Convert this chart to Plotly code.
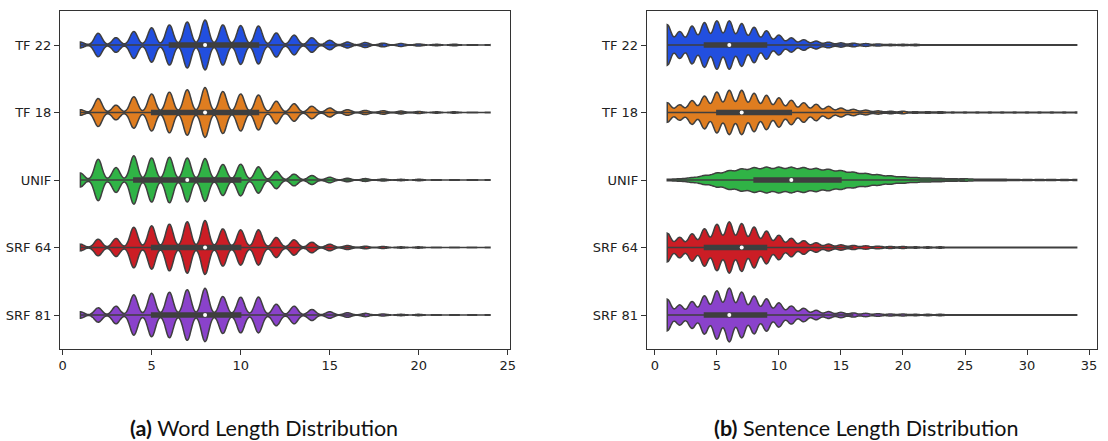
import numpy as np
import plotly.graph_objects as go

# ---------------- data (counts per length) ----------------
categories = ["TF 22", "TF 18", "UNIF", "SRF 64", "SRF 81"]
colors = ["#224fdf", "#df7d20", "#30b346", "#cb1d25", "#8a42cb"]

word_lengths = list(range(1, 25))
word_tf22 = [8, 32, 20, 37, 47, 55, 63, 68, 55, 53, 52, 33, 27, 20, 13, 8, 7, 5, 4, 3, 2, 2, 1, 1]
word_tf18 = [8, 40, 21, 45, 53, 58, 65, 71, 60, 53, 50, 32, 25, 18, 13, 8, 6, 5, 4, 3, 2, 2, 1, 1]
word_unif = [20, 60, 36, 70, 64, 66, 64, 62, 45, 46, 38, 25, 17, 13, 8, 5, 4, 3, 2, 2, 1, 1, 1, 1]
word_srf64 = [10, 25, 27, 61, 65, 70, 77, 81, 56, 53, 53, 30, 23, 16, 10, 6, 4, 3, 2, 2, 1, 1, 1, 1]
word_srf81 = [10, 22, 27, 62, 67, 70, 78, 82, 57, 55, 55, 33, 27, 17, 10, 7, 5, 3, 2, 2, 1, 1, 1, 1]

sent_lengths = list(range(1, 35))
sent_tf22 = [57, 38, 53, 63, 68, 68, 60, 50, 40, 28, 20, 15, 11, 8, 6, 5, 4, 3, 2, 2, 2,
             1, 1, 1, 1, 1, 1, 1, 1, 1, 1, 1, 1, 1]
sent_tf18 = [24, 19, 29, 40, 50, 54, 54, 47, 42, 36, 30, 24, 20, 15, 11, 8, 6, 4, 3, 3, 2,
             2, 2, 1, 1, 1, 1, 1, 1, 1, 1, 1, 1, 1]
sent_unif = [2, 3, 6, 11, 17, 23, 27, 30, 31, 31, 31, 30, 28, 26, 23, 19, 16, 13, 10, 8, 6,
             5, 4, 3, 3, 2, 2, 2, 1, 1, 1, 1, 1, 1]
sent_srf64 = [42, 30, 40, 55, 68, 75, 70, 60, 48, 36, 27, 20, 14, 10, 8, 6, 5, 4, 3, 3, 2,
              2, 2, 1, 1, 1, 1, 1, 1, 1, 1, 1, 1, 1]
sent_srf81 = [47, 30, 40, 57, 72, 80, 68, 56, 48, 36, 27, 20, 14, 10, 8, 6, 5, 4, 3, 3, 2,
              2, 2, 1, 1, 1, 1, 1, 1, 1, 1, 1, 1, 1]

word_series = [word_tf22, word_tf18, word_unif, word_srf64, word_srf81]
sent_series = [sent_tf22, sent_tf18, sent_unif, sent_srf64, sent_srf81]
word_bw = [0.21, 0.21, 0.21, 0.21, 0.21]
sent_bw = [0.3, 0.3, 0.42, 0.3, 0.3]

captions = ["<b>(a)</b> Word Length Distribution", "<b>(b)</b> Sentence Length Distribution"]

LINE = "#3f3f3f"
fig = go.Figure()


def add_panel(lengths, series, bws, xa, ya, group):
    for cat, col, counts, bw in zip(categories, colors, series, bws):
        samples = np.repeat(np.array(lengths, dtype=float), counts)
        fig.add_trace(go.Violin(
            x=samples, y0=cat, name=cat, orientation="h", side="both",
            scalegroup=group, scalemode="width", spanmode="hard",
            bandwidth=bw, fillcolor=col, opacity=1,
            line=dict(color=LINE, width=1.5),
            box=dict(visible=True, width=0.07, fillcolor=LINE,
                     line=dict(color=LINE, width=1.5)),
            meanline=dict(visible=False), points=False,
            xaxis=xa, yaxis=ya, showlegend=False, hoverinfo="skip"))
        fig.add_trace(go.Scatter(
            x=[float(np.median(samples))], y=[cat], mode="markers",
            marker=dict(color="white", size=4, line=dict(width=0)),
            xaxis=xa, yaxis=ya, showlegend=False, hoverinfo="skip"))


add_panel(word_lengths, word_series, word_bw, "x", "y", "word")
add_panel(sent_lengths, sent_series, sent_bw, "x2", "y2", "sent")

W, H = 1108, 441
axis_common = dict(showline=True, mirror=True, linecolor="#333333", linewidth=1.1,
                   ticks="outside", ticklen=5, tickwidth=1.1, tickcolor="#333333",
                   showgrid=False, zeroline=False,
                   tickfont=dict(family="DejaVu Sans", size=13, color="#222222"))
ydom = [1 - 348.75 / H, 1 - 11.25 / H]
yaxis_common = dict(axis_common, type="category", categoryorder="array",
                    categoryarray=categories, range=[4.5, -0.5], autorange=False)

fig.update_layout(
    width=W, height=H, margin=dict(l=0, r=0, t=0, b=0),
    paper_bgcolor="white", plot_bgcolor="white",
    violinmode="overlay", violingap=0.2, violingroupgap=0,
    xaxis=dict(axis_common, domain=[59.3 / W, 512.7 / W], range=[-0.15, 25.15],
               tickvals=[0, 5, 10, 15, 20, 25], anchor="y"),
    yaxis=dict(yaxis_common, domain=ydom, anchor="x"),
    xaxis2=dict(axis_common, domain=[649.9 / W, 1103.1 / W], range=[-0.65, 35.65],
                tickvals=[0, 5, 10, 15, 20, 25, 30, 35], anchor="y2"),
    yaxis2=dict(yaxis_common, domain=ydom, anchor="x2"),
    annotations=[
        dict(text=captions[0], x=265 / W, y=1 - 428 / H, xref="paper", yref="paper",
             showarrow=False, xanchor="center", yanchor="middle",
             font=dict(family="Lato", size=21.5, color="#111111")),
        dict(text=captions[1], x=871 / W, y=1 - 428 / H, xref="paper", yref="paper",
             showarrow=False, xanchor="center", yanchor="middle",
             font=dict(family="Lato", size=21.5, color="#111111")),
    ],
)

fig.write_html("out.html")
